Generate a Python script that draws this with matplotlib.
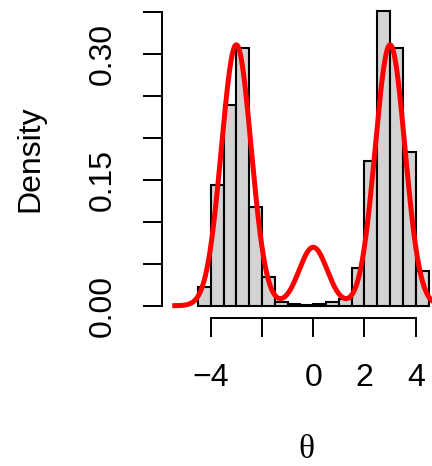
import numpy as np
import matplotlib
matplotlib.use("Agg")
import matplotlib.pyplot as plt

# Histogram (density scale), bin width 0.5
bin_left = [-4.5, -4.0, -3.5, -3.0, -2.5, -2.0, -1.5, -1.0, -0.5, 0.0,
            0.5, 1.0, 1.5, 2.0, 2.5, 3.0, 3.5, 4.0]
bin_density = [0.0226, 0.1437, 0.2397, 0.307, 0.118, 0.0345, 0.004, 0.002,
               0.001, 0.0016, 0.0044, 0.0083, 0.0444, 0.173, 0.351, 0.307,
               0.183, 0.0417]
bin_width = 0.5

# Red density curve: three-component normal mixture
mix_means = [-3.0, 0.0, 3.0]
mix_sds = [0.58, 0.55, 0.58]
mix_weights = [0.452, 0.096, 0.452]
curve_range = (-5.5, 5.0)

x_ticks = [-4, -2, 0, 2, 4]
x_ticklabels = ["\u22124", "", "0", "2", "4"]
y_ticks = [0.0, 0.05, 0.10, 0.15, 0.20, 0.25, 0.30, 0.35]
y_ticklabels = ["0.00", "", "", "0.15", "", "", "0.30", ""]

plt.rcParams['font.family'] = ['Liberation Sans', 'DejaVu Sans']

W, H = 432, 466
fig = plt.figure(figsize=(W / 100, H / 100), dpi=100)
ax = fig.add_axes([162 / W, (H - 318) / H, (W - 162) / W, 318 / H])

ax.bar(bin_left, bin_density, width=bin_width, align='edge',
       color='#D3D3D3', edgecolor='black', linewidth=1.5, zorder=2)

xs = np.linspace(curve_range[0], curve_range[1], 600)
dens = np.zeros_like(xs)
for m, s, w in zip(mix_means, mix_sds, mix_weights):
    dens += w * np.exp(-0.5 * ((xs - m) / s) ** 2) / (s * np.sqrt(2 * np.pi))
ax.plot(xs, dens, color='#FF0000', linewidth=3.6, zorder=3,
        solid_capstyle='butt')

ax.set_xlim(-5.900, 4.636)
ax.set_ylim(-0.01466, 0.3643)

for side in ['top', 'right']:
    ax.spines[side].set_visible(False)
ax.spines['left'].set_bounds(0, 0.35)
ax.spines['bottom'].set_bounds(-4, 4)
for side in ['left', 'bottom']:
    ax.spines[side].set_linewidth(1.4)

ax.set_xticks(x_ticks)
ax.set_xticklabels(x_ticklabels, fontsize=23)
ax.set_yticks(y_ticks)
ax.set_yticklabels(y_ticklabels, fontsize=23, rotation=90, va='center')
ax.tick_params(axis='both', direction='out', length=13.7, width=1.4)
ax.tick_params(axis='x', pad=19)
ax.tick_params(axis='y', pad=18)

fig.text(30 / W, 1 - 159 / H, "Density", rotation=90, ha='center',
         va='center', fontsize=23)
fig.text(306.5 / W, 1 - 458.5 / H, "\u03b8", ha='center', va='baseline',
         fontsize=24, family=['Liberation Serif', 'DejaVu Serif'])

fig.savefig("out.png", dpi=100)
